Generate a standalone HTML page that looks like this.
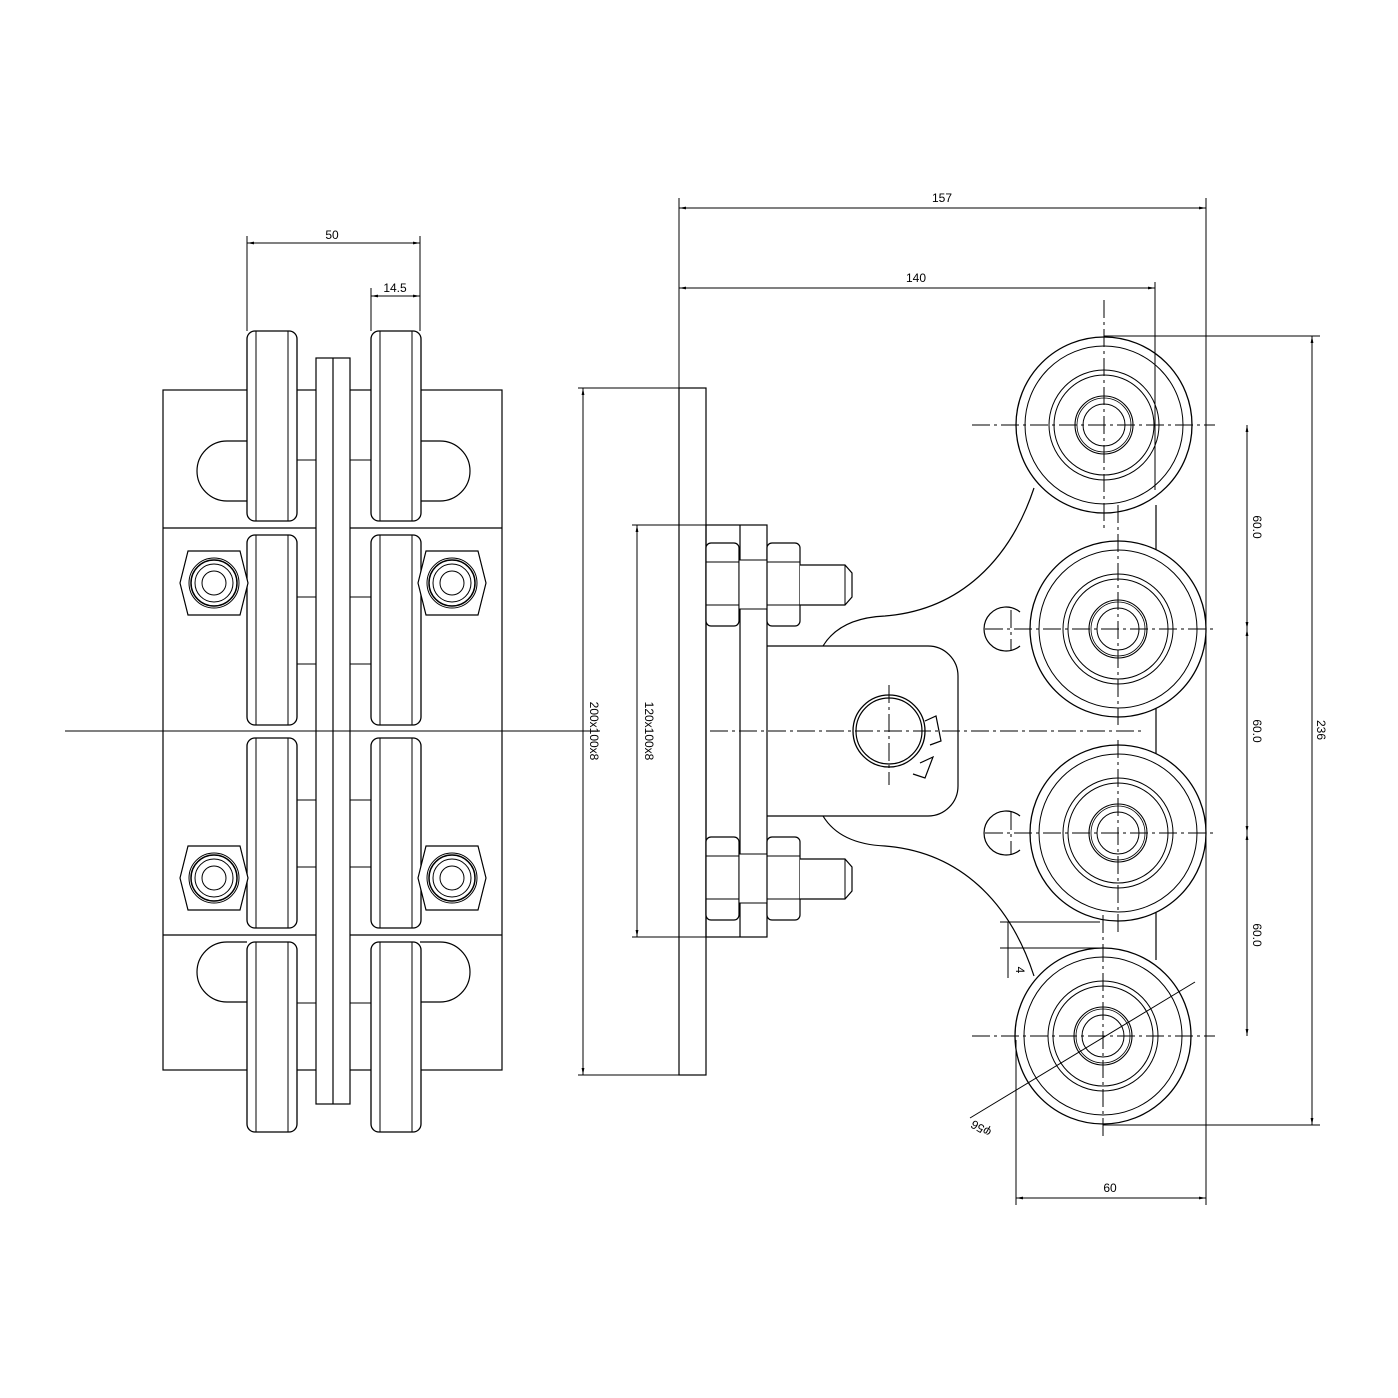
<!DOCTYPE html>
<html><head><meta charset="utf-8"><style>html,body{margin:0;padding:0;background:#fff}svg{display:block}</style></head>
<body>
<svg width="1398" height="1398" viewBox="0 0 1398 1398" xmlns="http://www.w3.org/2000/svg" font-family="Liberation Sans, sans-serif" font-size="12">
<defs>
<marker id="a" viewBox="0 0 10 10" refX="10" refY="5" markerWidth="7" markerHeight="7" orient="auto-start-reverse"><path d="M0,3 L10,5 L0,7 z" fill="#000"/></marker>
<g id="wheelL"><rect x="0" y="0" width="50" height="190" rx="8" fill="#fff" stroke="#000" stroke-width="1.3"/><line x1="9" y1="0" x2="9" y2="190" stroke="#000"/><line x1="41" y1="0" x2="41" y2="190" stroke="#000"/></g>
<g id="nutL"><polygon points="-34,0 -26,-32 26,-32 34,0 26,32 -26,32" fill="#fff" stroke="#000" stroke-width="1.2"/><circle r="25" fill="none" stroke="#000"/><circle r="23" fill="none" stroke="#000" stroke-width="1.5"/><circle r="19" fill="none" stroke="#000"/><circle r="12" fill="none" stroke="#000"/></g>
<g id="roll"><circle r="88" fill="#fff" stroke="#000" stroke-width="1.3"/><circle r="79" fill="none" stroke="#000"/><circle r="55" fill="none" stroke="#000"/><circle r="50" fill="none" stroke="#000"/><circle r="29" fill="none" stroke="#000" stroke-width="1.1"/><circle r="27" fill="none" stroke="#000" stroke-width="0.8"/><circle r="21" fill="none" stroke="#000"/></g>
<g id="nutS"><rect x="706" y="0" width="33" height="83" rx="5" fill="#fff" stroke="#000" stroke-width="1.2"/><line x1="706" y1="19" x2="739" y2="19" stroke="#000"/><line x1="706" y1="62" x2="739" y2="62" stroke="#000"/><rect x="739" y="17" width="28" height="49" fill="#fff" stroke="#000"/><rect x="767" y="0" width="33" height="83" rx="5" fill="#fff" stroke="#000" stroke-width="1.2"/><line x1="767" y1="19" x2="800" y2="19" stroke="#000"/><line x1="767" y1="62" x2="800" y2="62" stroke="#000"/><path d="M800,22 H845 L852,30 V54 L845,62 H800" fill="#fff" stroke="#000" stroke-width="1.2"/><line x1="845" y1="22" x2="845" y2="62" stroke="#000"/></g>
</defs>
<rect width="1398" height="1398" fill="#fff"/>
<g fill="none" stroke="#000" stroke-width="1.2">
<rect x="163" y="390" width="339" height="680"/>
<line x1="163" y1="528" x2="502" y2="528"/>
<line x1="163" y1="935" x2="502" y2="935"/>
<rect x="316" y="358" width="34" height="746" fill="#fff"/>
<line x1="333" y1="358" x2="333" y2="1104"/>
<path d="M247,441 H227 A30,30 0 0 0 227,501 H247"/>
<path d="M420,441 H440 A30,30 0 0 1 440,501 H420"/>
<path d="M247,942 H227 A30,30 0 0 0 227,1002 H247"/>
<path d="M420,942 H440 A30,30 0 0 1 440,1002 H420"/>
<g stroke-width="1"><line x1="297" y1="460" x2="316" y2="460"/><line x1="350" y1="460" x2="371" y2="460"/>
<line x1="297" y1="597" x2="316" y2="597"/><line x1="350" y1="597" x2="371" y2="597"/>
<line x1="297" y1="664" x2="316" y2="664"/><line x1="350" y1="664" x2="371" y2="664"/>
<line x1="297" y1="800" x2="316" y2="800"/><line x1="350" y1="800" x2="371" y2="800"/>
<line x1="297" y1="867" x2="316" y2="867"/><line x1="350" y1="867" x2="371" y2="867"/>
<line x1="297" y1="1003" x2="316" y2="1003"/><line x1="350" y1="1003" x2="371" y2="1003"/></g>
</g>
<use href="#wheelL" x="247" y="331"/><use href="#wheelL" x="371" y="331"/>
<use href="#wheelL" x="247" y="535"/><use href="#wheelL" x="371" y="535"/>
<use href="#wheelL" x="247" y="738"/><use href="#wheelL" x="371" y="738"/>
<use href="#wheelL" x="247" y="942"/><use href="#wheelL" x="371" y="942"/>
<use href="#nutL" x="214" y="583"/><use href="#nutL" x="452" y="583"/>
<use href="#nutL" x="214" y="878"/><use href="#nutL" x="452" y="878"/>
<line x1="65" y1="731" x2="600" y2="731" stroke="#000" stroke-width="1"/>
<g stroke="#000" stroke-width="1" fill="none">
<line x1="247" y1="236" x2="247" y2="331"/><line x1="420" y1="236" x2="420" y2="331"/><line x1="371" y1="288" x2="371" y2="331"/>
<line x1="247" y1="243" x2="420" y2="243" marker-start="url(#a)" marker-end="url(#a)"/>
<line x1="371" y1="296" x2="420" y2="296" marker-start="url(#a)" marker-end="url(#a)"/>
</g>
<text x="332" y="239" text-anchor="middle">50</text>
<text x="395" y="292" text-anchor="middle">14.5</text>

<g fill="none" stroke="#000" stroke-width="1.2">
<rect x="679" y="388" width="27" height="687"/>
<rect x="706" y="525" width="61" height="412"/>
<line x1="740" y1="525" x2="740" y2="937"/>
<path d="M823,646 Q840,618 885,616 C960,610 1010,560 1034,488"/>
<path d="M823,816 Q840,844 885,846 C960,852 1010,902 1034,976"/>
<line x1="1156" y1="505" x2="1156" y2="960"/>
<path d="M767,646 H928 A30,30 0 0 1 958,676 V786 A30,30 0 0 1 928,816 H767"/>
<circle cx="889" cy="731" r="36" stroke-width="1.3"/><circle cx="889" cy="731" r="33"/>
<path d="M925,721 L936,716 L941,741 L930,745"/><path d="M920,763 L933,757 L925,778 L913,774"/>
<path d="M1020,612 A22,22 0 1 0 1020,646"/><path d="M1020,816 A22,22 0 1 0 1020,850"/>
</g>
<use href="#nutS" y="543"/><use href="#nutS" y="837"/>
<use href="#roll" x="1104" y="425"/><use href="#roll" x="1118" y="629"/>
<use href="#roll" x="1118" y="833"/><use href="#roll" x="1103" y="1036"/>
<g stroke="#000" stroke-width="1" stroke-dasharray="18,4,3,4" fill="none">
<line x1="710" y1="731" x2="1145" y2="731"/>
<line x1="972" y1="425" x2="1215" y2="425"/><line x1="985" y1="629" x2="1215" y2="629"/>
<line x1="985" y1="833" x2="1215" y2="833"/><line x1="972" y1="1036" x2="1215" y2="1036"/>
<line x1="1104" y1="300" x2="1104" y2="530"/><line x1="1118" y1="505" x2="1118" y2="725"/>
<line x1="1118" y1="740" x2="1118" y2="935"/><line x1="1103" y1="915" x2="1103" y2="1140"/>
<line x1="889" y1="685" x2="889" y2="785"/><line x1="1011" y1="610" x2="1011" y2="650"/><line x1="1011" y1="812" x2="1011" y2="854"/>
</g>
<g stroke="#000" stroke-width="1" fill="none">
<line x1="679" y1="198" x2="679" y2="388"/><line x1="1206" y1="198" x2="1206" y2="1205"/><line x1="1155" y1="282" x2="1155" y2="490"/>
<line x1="679" y1="208" x2="1206" y2="208" marker-start="url(#a)" marker-end="url(#a)"/>
<line x1="679" y1="288" x2="1155" y2="288" marker-start="url(#a)" marker-end="url(#a)"/>
<line x1="578" y1="388" x2="679" y2="388"/><line x1="578" y1="1075" x2="679" y2="1075"/>
<line x1="583" y1="388" x2="583" y2="1075" marker-start="url(#a)" marker-end="url(#a)"/>
<line x1="632" y1="525" x2="706" y2="525"/><line x1="632" y1="937" x2="706" y2="937"/>
<line x1="637" y1="525" x2="637" y2="937" marker-start="url(#a)" marker-end="url(#a)"/>
<line x1="1104" y1="336" x2="1320" y2="336"/><line x1="1103" y1="1125" x2="1320" y2="1125"/>
<line x1="1312" y1="336" x2="1312" y2="1125" marker-start="url(#a)" marker-end="url(#a)"/>
<line x1="1247" y1="425" x2="1247" y2="629" marker-start="url(#a)" marker-end="url(#a)"/>
<line x1="1247" y1="629" x2="1247" y2="833" marker-start="url(#a)" marker-end="url(#a)"/>
<line x1="1247" y1="833" x2="1247" y2="1036" marker-start="url(#a)" marker-end="url(#a)"/>
<line x1="1016" y1="1040" x2="1016" y2="1205"/>
<line x1="1016" y1="1198" x2="1206" y2="1198" marker-start="url(#a)" marker-end="url(#a)"/>
<line x1="1000" y1="922" x2="1100" y2="922"/><line x1="1000" y1="948" x2="1100" y2="948"/>
<line x1="1008" y1="922" x2="1008" y2="978"/>
<line x1="970" y1="1118" x2="1195" y2="982"/>
</g>
<text x="942" y="202" text-anchor="middle">157</text>
<text x="916" y="282" text-anchor="middle">140</text>
<text x="1110" y="1192" text-anchor="middle">60</text>
<text transform="translate(590,731) rotate(90)" text-anchor="middle">200x100x8</text>
<text transform="translate(645,731) rotate(90)" text-anchor="middle">120x100x8</text>
<text transform="translate(1253,527) rotate(90)" text-anchor="middle">60.0</text>
<text transform="translate(1253,731) rotate(90)" text-anchor="middle">60.0</text>
<text transform="translate(1253,935) rotate(90)" text-anchor="middle">60.0</text>
<text transform="translate(1317,730) rotate(90)" text-anchor="middle">236</text>
<text transform="translate(1016,970) rotate(90)" text-anchor="middle">4</text>
<text transform="translate(983,1125) rotate(-150)" text-anchor="middle">φ56</text>
</svg>
</body></html>
